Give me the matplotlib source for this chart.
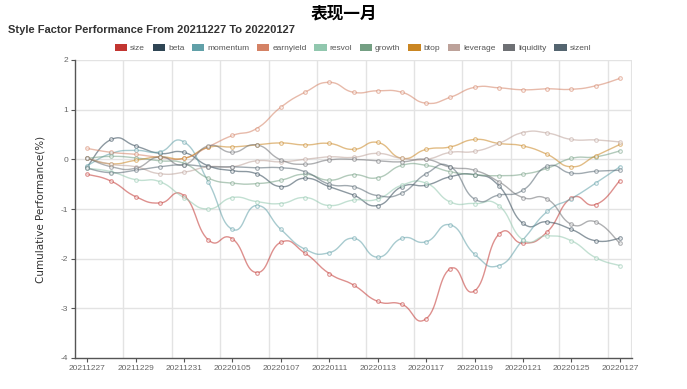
import numpy as np
import matplotlib.pyplot as plt
from matplotlib.patches import Patch

# trading days shown on the category axis
dates = ['20211227', '20211228', '20211229', '20211230', '20211231',
         '20220104', '20220105', '20220106', '20220107', '20220110',
         '20220111', '20220112', '20220113', '20220114', '20220117',
         '20220118', '20220119', '20220120', '20220121', '20220124',
         '20220125', '20220126', '20220127']

size = [-0.30, -0.44, -0.75, -0.88, -0.73, -1.62, -1.60, -2.28, -1.67, -1.89, -2.30, -2.53,
        -2.86, -2.92, -3.21, -2.20, -2.65, -1.51, -1.69, -1.46, -0.78, -0.91, -0.43]
beta = [-0.15, 0.40, 0.27, 0.12, 0.14, -0.13, -0.23, -0.29, -0.55, -0.38, -0.55, -0.72,
        -0.93, -0.55, -0.52, -0.35, -0.31, -0.53, -1.29, -1.26, -1.41, -1.64, -1.59]
momentum = [-0.13, 0.12, 0.18, 0.15, 0.35, -0.45, -1.41, -0.93, -1.41, -1.81, -1.88, -1.59,
            -1.97, -1.59, -1.66, -1.32, -1.91, -2.14, -1.62, -1.05, -0.79, -0.48, -0.15]
earnyield = [0.22, 0.14, 0.10, 0.04, 0.02, 0.25, 0.48, 0.62, 1.05, 1.35, 1.55, 1.35,
             1.38, 1.35, 1.13, 1.25, 1.45, 1.44, 1.40, 1.42, 1.41, 1.48, 1.63]
resvol = [-0.18, -0.25, -0.41, -0.45, -0.77, -1.00, -0.77, -0.85, -0.89, -0.77, -0.93, -0.82,
          -0.80, -0.52, -0.48, -0.86, -0.89, -0.93, -1.62, -1.54, -1.64, -1.98, -2.14]
growth = [0.02, 0.06, 0.03, -0.03, -0.08, -0.38, -0.48, -0.49, -0.42, -0.30, -0.42, -0.31,
          -0.37, -0.12, -0.12, -0.25, -0.31, -0.33, -0.30, -0.18, 0.02, 0.05, 0.17]
btop = [0.02, -0.09, -0.02, 0.05, 0.02, 0.24, 0.25, 0.29, 0.33, 0.29, 0.32, 0.20,
        0.34, 0.02, 0.20, 0.25, 0.40, 0.32, 0.27, 0.10, -0.15, 0.07, 0.30]
leverage = [0.02, -0.10, -0.15, -0.29, -0.26, -0.15, -0.15, -0.03, -0.05, 0.00, 0.05, 0.04,
            0.12, 0.02, 0.00, 0.14, 0.16, 0.32, 0.54, 0.53, 0.40, 0.39, 0.35]
liquidity = [0.03, -0.15, -0.18, 0.05, -0.11, 0.27, 0.14, 0.29, -0.01, -0.10, -0.01, 0.00,
             -0.03, -0.05, 0.00, -0.16, -0.22, -0.45, -0.77, -0.80, -1.31, -1.26, -1.69]
sizenl = [-0.18, -0.27, -0.22, -0.15, -0.11, -0.15, -0.15, -0.17, -0.17, -0.25, -0.50, -0.55,
          -0.73, -0.68, -0.29, -0.15, -0.80, -0.72, -0.62, -0.14, -0.28, -0.24, -0.22]

names = ['size', 'beta', 'momentum', 'earnyield', 'resvol', 'growth', 'btop',
         'leverage', 'liquidity', 'sizenl']
series = [size, beta, momentum, earnyield, resvol, growth, btop, leverage, liquidity, sizenl]
colors = ['#c23531', '#2f4554', '#61a0a8', '#d48265', '#91c7ae', '#749f83', '#ca8622',
          '#bda29a', '#6e7074', '#546570']


def bezier_curve(x, y, s=0.25, n=16):
    # echarts-like smooth line through the points
    x = np.asarray(x, float)
    y = np.asarray(y, float)
    xs, ys = [], []
    t = np.linspace(0, 1, n)
    for i in range(len(x) - 1):
        i0 = max(i - 1, 0)
        i3 = min(i + 2, len(x) - 1)
        c1x = x[i] + (x[i + 1] - x[i0]) * s
        c1y = y[i] + (y[i + 1] - y[i0]) * s
        c2x = x[i + 1] - (x[i3] - x[i]) * s
        c2y = y[i + 1] - (y[i3] - y[i]) * s
        a = (1 - t) ** 3
        b = 3 * (1 - t) ** 2 * t
        c = 3 * (1 - t) * t ** 2
        d = t ** 3
        xs.append(a * x[i] + b * c1x + c * c2x + d * x[i + 1])
        ys.append(a * y[i] + b * c1y + c * c2y + d * y[i + 1])
    return np.concatenate(xs), np.concatenate(ys)


fig = plt.figure(figsize=(6.87, 3.89), dpi=100)
ax = fig.add_axes([75 / 687, 1 - 358 / 389, 557 / 687, 298 / 389])

xi = np.arange(len(dates))
for name, vals, col in zip(names, series, colors):
    sx, sy = bezier_curve(xi, vals)
    ax.plot(sx, sy, color=col, lw=1.0, alpha=0.55, zorder=3)
    ax.plot(xi, vals, ls='none', marker='o', ms=2.6, mfc='white', mec=col, mew=0.8,
            alpha=0.55, zorder=4)

ax.set_xlim(-0.5, len(dates) - 0.5)
ax.set_ylim(-4, 2)
ax.set_yticks(range(-4, 3))
ax.set_yticklabels([str(v) for v in range(-4, 3)], fontsize=6, color='#666666',
                   family='Liberation Sans')
ax.set_xticks(xi[::2])
ax.set_xticklabels(dates[::2], fontsize=6, color='#666666', family='Liberation Sans')
ax.tick_params(axis='both', length=3, width=0.8, color='#555555', pad=2)

for gx in np.arange(1.5, len(dates), 2):
    ax.axvline(gx, color='#e3e3e3', lw=1, zorder=1)
ax.axvline(len(dates) - 0.5, color='#e3e3e3', lw=1.5, zorder=1)
for gy in range(-3, 3):
    ax.axhline(gy, color='#e3e3e3', lw=1, zorder=1)

for sp in ['top', 'right']:
    ax.spines[sp].set_visible(False)
for sp in ['left', 'bottom']:
    ax.spines[sp].set_color('#555555')
    ax.spines[sp].set_linewidth(1)

ax.set_ylabel('Cumulative Performance(%)', fontsize=7.5, color='#333333', labelpad=11)

fig.text(0.5, 1 - 13 / 389, '表现一月', ha='center', va='center', fontsize=12,
         fontweight='bold', family=['Noto Sans CJK SC', 'DejaVu Sans'], color='black')
fig.text(8 / 687, 1 - 30 / 389, 'Style Factor Performance From 20211227 To 20220127',
         ha='left', va='center', fontsize=8, fontweight='bold', color='#333333',
         family='Liberation Sans')

handles = [Patch(facecolor=c, edgecolor='none') for c in colors]
fig.legend(handles, names, loc='center', bbox_to_anchor=(353 / 687, 1 - 48 / 389),
           ncol=10, frameon=False, handlelength=1.5, handleheight=1.0,
           columnspacing=0.9, handletextpad=0.35, labelcolor='#555555',
           prop={'family': 'Liberation Sans', 'size': 6})

fig.savefig('out.png', dpi=100)
